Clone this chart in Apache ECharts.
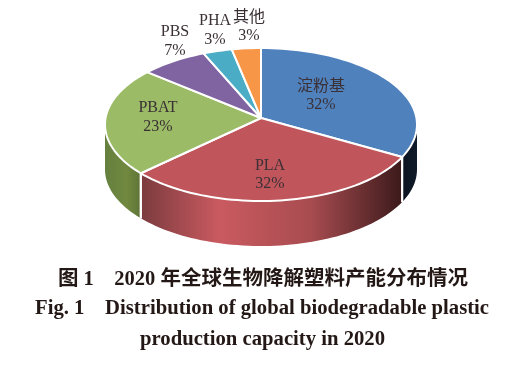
<!DOCTYPE html>
<html>
<head>
<meta charset="utf-8">
<style>
    html, body { margin: 0; padding: 0; background: #fff; }
    #main { width: 514px; height: 366px; }
</style>
<script src="https://cdn.jsdelivr.net/npm/echarts@6/dist/echarts.min.js"></script>
</head>
<body>
<div id="main"></div>
<script>
var names = ['淀粉基', 'PLA', 'PBAT', 'PBS', 'PHA', '其他'];
var values = [32, 32, 23, 7, 3, 3];

var captionCn = '图 1    2020 年全球生物降解塑料产能分布情况';
var captionEn1 = 'Fig. 1    Distribution of global biodegradable plastic';
var captionEn2 = 'production capacity in 2020';

(function () {
    var chart = echarts.init(document.getElementById('main'));
    var fontStack = '"Liberation Serif", "Noto Sans CJK SC", serif';

    // 饼的位置和大小
    var cx = 261, cy = 124.5, rx = 156, ry = 76.5, depth = 45;
    var apexY = 118;    // 透视下扇形的尖点比椭圆中心略高

    var topColors = ['#4f81bd', '#c0565b', '#9bbb67', '#8064a2', '#4bacc6', '#f79646'];
    var wallStops = [
        [[0, '#0c1420'], [1, '#101a28']],
        [[0, '#7b3b3e'], [0.3, '#c95a60'], [0.65, '#a84c50'], [1, '#3c1a1b']],
        [[0, '#65803f'], [0.6, '#71893f'], [1, '#5d7438']]
    ];
    // 标签中心 [x, 第一行y, 第二行y]
    var labelPos = [
        [321, 87, 105], [270, 166, 184], [158, 108, 127],
        [175, 32, 51], [215, 21, 40], [249, 18, 36]
    ];

    var total = values.reduce(function (a, b) { return a + b; }, 0);
    var starts = [];
    values.reduce(function (sum, v, i) { starts[i] = sum; return sum + v; }, 0);

    function rim(deg, dy) {
        var r = deg * Math.PI / 180;
        return [cx + rx * Math.sin(r), cy - ry * Math.cos(r) + (dy || 0)];
    }

    function arc(a1, a2, dy) {
        var pts = [], n = Math.max(2, Math.ceil((a2 - a1) / 2));
        for (var i = 0; i <= n; i++) {
            pts.push(rim(a1 + (a2 - a1) * i / n, dy));
        }
        return pts;
    }

    function renderSlice(params, api) {
        var i = params.dataIndex;
        var a1 = api.value(1) / total * 360;
        var a2 = a1 + api.value(0) / total * 360;
        var children = [];

        // 前半圈才有侧壁
        var w1 = Math.max(a1, 90), w2 = Math.min(a2, 270);
        if (w2 > w1) {
            var wall = arc(w1, w2, 0).concat(arc(w1, w2, depth).reverse());
            children.push({
                type: 'polygon',
                shape: {points: wall},
                style: {
                    fill: new echarts.graphic.LinearGradient(0, 0, 1, 0,
                        wallStops[i].map(function (s) { return {offset: s[0], color: s[1]}; }))
                },
                z2: 1
            });
            [a1, a2].forEach(function (a) {
                if (a > 90 && a < 270) {
                    var p = rim(a, 0);
                    children.push({
                        type: 'line',
                        shape: {x1: p[0], y1: p[1], x2: p[0], y2: p[1] + depth},
                        style: {stroke: '#fff', lineWidth: 2},
                        z2: 2
                    });
                }
            });
        }

        children.push({
            type: 'polygon',
            shape: {points: [[cx, apexY]].concat(arc(a1, a2, 0))},
            style: {fill: topColors[i], stroke: '#fff', lineWidth: 2, lineJoin: 'round'},
            z2: 3
        });

        [names[i], values[i] + '%'].forEach(function (t, k) {
            children.push({
                type: 'text',
                x: labelPos[i][0],
                y: labelPos[i][k + 1],
                style: {
                    text: t,
                    fill: '#3a3035',
                    font: '16px ' + fontStack,
                    align: 'center',
                    verticalAlign: 'middle'
                },
                z2: 5
            });
        });

        return {type: 'group', children: children};
    }

    var option = {
        backgroundColor: '#fff',
        animation: false,
        title: [
            {
                text: captionCn, left: 53, top: 264,
                textStyle: {fontFamily: fontStack, fontSize: 20.5, fontWeight: 'bold', color: '#231815'}
            },
            {
                text: captionEn1, left: 30, top: 293,
                textStyle: {fontFamily: fontStack, fontSize: 20.7, fontWeight: 'bold', color: '#231815'}
            },
            {
                text: captionEn2, left: 135, top: 324,
                textStyle: {fontFamily: fontStack, fontSize: 20.7, fontWeight: 'bold', color: '#231815'}
            }
        ],
        series: [
            {
                type: 'custom',
                coordinateSystem: 'none',
                renderItem: renderSlice,
                data: values.map(function (v, i) { return [v, starts[i]]; })
            }
        ]
    };
    chart.setOption(option);

    window.addEventListener('resize', function () {
        chart.resize();
    });
}());
</script>
</body>
</html>
